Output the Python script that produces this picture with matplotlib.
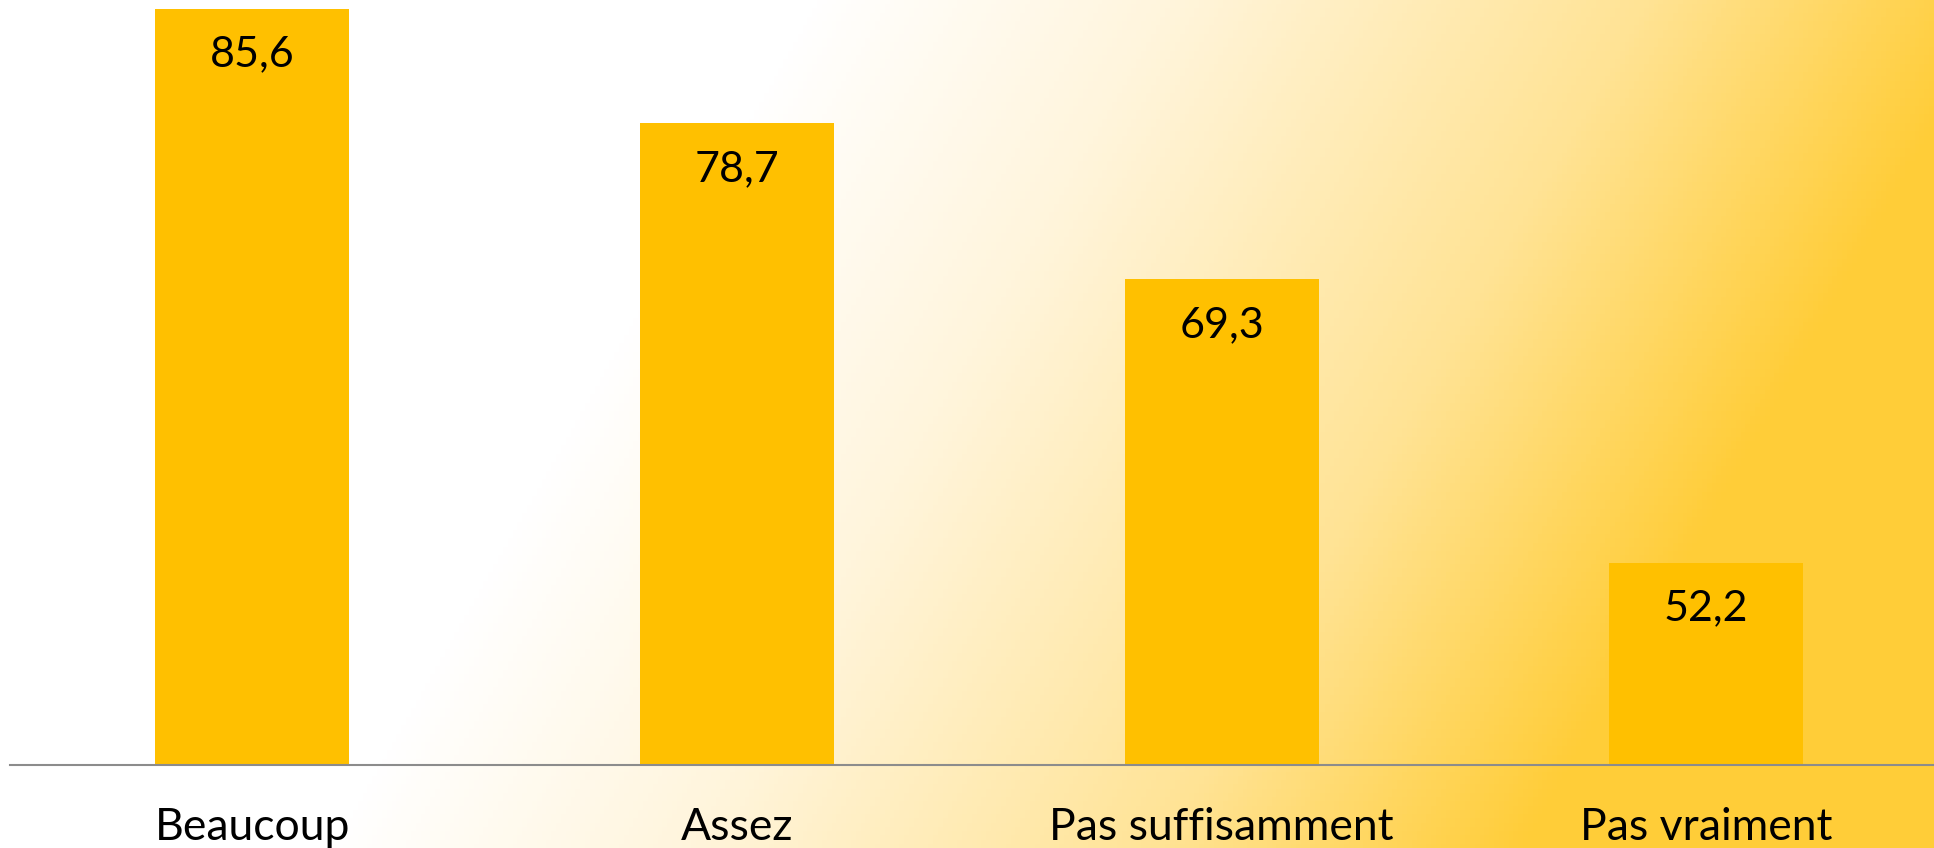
import numpy as np
import matplotlib.pyplot as plt
from matplotlib.colors import LinearSegmentedColormap

categories = ['Beaucoup', 'Assez', 'Pas suffisamment', 'Pas vraiment']
values = [85.6, 78.7, 69.3, 52.2]
value_labels = ['85,6', '78,7', '69,3', '52,2']

plt.rcParams['font.family'] = ['Lato', 'DejaVu Sans']

fig = plt.figure(figsize=(19.34, 8.48), dpi=100)

# white -> yellow background, slightly tilted
bg = fig.add_axes([0, 0, 1, 1], zorder=0)
u, v = np.meshgrid(np.linspace(0, 1, 400), np.linspace(0, 1, 200))
t = np.clip((u + 0.25 * v - 0.42) / 0.62, 0, 1)
cmap = LinearSegmentedColormap.from_list(
    'bg', [(0, '#FFFFFF'), (0.3, '#FFF5DC'), (0.7, '#FFE394'), (1, '#FFCD38')])
bg.imshow(t, cmap=cmap, aspect='auto', extent=[0, 1, 0, 1], origin='upper',
          vmin=0, vmax=1)
bg.axis('off')

ax = fig.add_axes([10 / 1934, 83 / 848, 1 - 10 / 1934, 1 - 83 / 848], zorder=1)
ax.patch.set_alpha(0)
x = np.arange(len(categories))
bars = ax.bar(x, values, width=0.4, color='#FFC000')
ax.set_ylim(40, 86.12)
ax.set_xlim(-0.5, 3.47)

for b, lab in zip(bars, value_labels):
    ax.annotate(lab, (b.get_x() + b.get_width() / 2, b.get_height()),
                xytext=(0, -33), textcoords='offset points',
                ha='center', va='center', fontsize=31, color='black')

ax.set_xticks(x, labels=categories)
ax.tick_params(axis='x', length=0, pad=30, labelsize=32)
ax.set_yticks([])
for s in ['left', 'right', 'top']:
    ax.spines[s].set_visible(False)
ax.spines['bottom'].set_color('#8C8C8C')
ax.spines['bottom'].set_linewidth(1.5)

fig.savefig('out.png', dpi=100)
